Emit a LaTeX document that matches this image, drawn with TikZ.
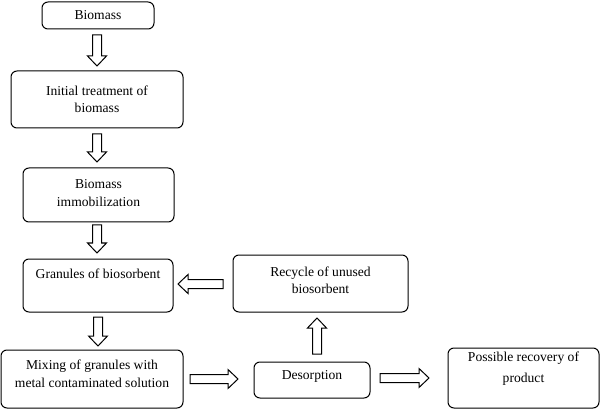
\documentclass[tikz,border=0pt]{standalone}
\usepackage{fontspec}
\setmainfont{Liberation Serif}
\usetikzlibrary{calc}
\tikzset{
  box/.style={draw=black, line width=1pt, rounded corners=6pt, inner sep=0pt},
  txt/.style={align=center, inner sep=0pt, font=\fontsize{13.6}{17.5}\selectfont},
  barrow/.style={draw=black, line width=1pt, fill=white, line join=miter},
}
\newcommand{\blockarr}[2]{%
  \coordinate (hb) at ($(#2)!10pt!(#1)$);
  \draw[barrow] ($(#1)!4.5pt!90:(#2)$) -- ($(hb)!4.5pt!90:(#2)$) -- ($(hb)!9.5pt!90:(#2)$) -- (#2)
    -- ($(hb)!9.5pt!-90:(#2)$) -- ($(hb)!4.5pt!-90:(#2)$) -- ($(#1)!4.5pt!-90:(#2)$) -- cycle;}
\begin{document}
\begin{tikzpicture}[x=1pt, y=1pt]
\useasboundingbox (0,0) rectangle (602,410);
% boxes
\node[box, minimum width=112pt, minimum height=27pt] (bio) at (98,394.5) {};
\node[box, minimum width=172pt, minimum height=57pt] (init) at (97,310.5) {};
\node[box, minimum width=151pt, minimum height=54pt] (immo) at (98.5,215) {};
\node[box, minimum width=150pt, minimum height=53pt] (gran) at (98,124.5) {};
\node[box, minimum width=182pt, minimum height=58pt] (mix) at (92,31) {};
\node[box, minimum width=116pt, minimum height=36pt] (deso) at (312,30) {};
\node[box, minimum width=151pt, minimum height=60pt] (reco) at (523.5,32) {};
\node[box, minimum width=175pt, minimum height=57pt] (recy) at (320.5,126.5) {};
% texts
\node[txt] (tbio) at (bio.center) {Biomass};
\node[txt] (tinit) at (init.center) {Initial treatment of\\biomass};
\node[txt] (timmo) at ([yshift=2pt]immo.center) {Biomass\\immobilization};
\node[txt] (tgran) at ([yshift=11.5pt]gran.center) {Granules of biosorbent};
\node[txt] (tmix) at ([yshift=5pt]mix.center) {Mixing of granules with\\metal contaminated solution};
\node[txt] (tdeso) at ([yshift=4pt]deso.center) {Desorption};
\node[txt, font=\fontsize{13.6}{21}\selectfont] (treco) at ([yshift=9pt]reco.center) {Possible recovery of\\product};
\node[txt] (trecy) at ([yshift=3pt]recy.center) {Recycle of unused\\biosorbent};
% arrow end points
\coordinate (a1s) at (97,375); \coordinate (a1e) at (97,344);
\coordinate (a2s) at (97,276); \coordinate (a2e) at (97,248);
\coordinate (a3s) at (97,185); \coordinate (a3e) at (97,157);
\coordinate (a4s) at (98,93);  \coordinate (a4e) at (98,64);
\coordinate (a5s) at (190,31); \coordinate (a5e) at (238,31);
\coordinate (a6s) at (380,32); \coordinate (a6e) at (429,32);
\coordinate (a7s) at (317,56); \coordinate (a7e) at (317,92);
\coordinate (a8s) at (223,126); \coordinate (a8e) at (178,126);
\blockarr{a1s}{a1e}
\blockarr{a2s}{a2e}
\blockarr{a3s}{a3e}
\blockarr{a4s}{a4e}
\blockarr{a5s}{a5e}
\blockarr{a6s}{a6e}
\blockarr{a7s}{a7e}
\blockarr{a8s}{a8e}
\end{tikzpicture}
\end{document}
